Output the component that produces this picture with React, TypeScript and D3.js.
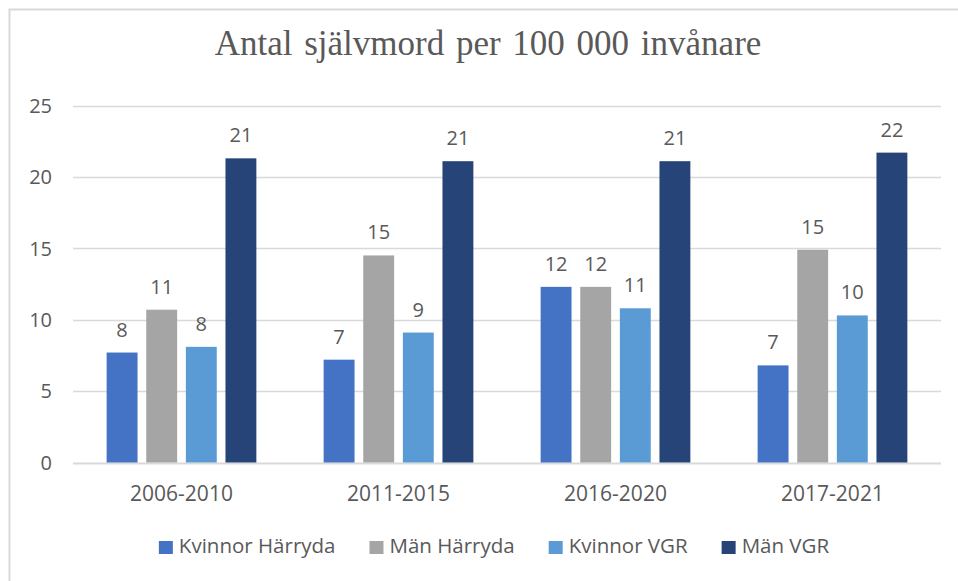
import { useRef, useEffect } from "react";
import * as d3 from "d3";

const categories = ["2006-2010", "2011-2015", "2016-2020", "2017-2021"];
const seriesNames = ["Kvinnor Härryda", "Män Härryda", "Kvinnor VGR", "Män VGR"];
const colors = ["#4472C4", "#A5A5A5", "#5B9BD5", "#264478"];

// värden per serie, en per period
const kvinnorHarryda = [7.7, 7.2, 12.3, 6.8];
const manHarryda = [10.7, 14.5, 12.3, 14.9];
const kvinnorVGR = [8.1, 9.1, 10.8, 10.3];
const manVGR = [21.3, 21.1, 21.1, 21.7];

const yTicks = [0, 5, 10, 15, 20, 25];

const W = 958;
const H = 581;
const textColor = "#595959";
const gridColor = "#D9D9D9";

function App() {
  const svgRef = useRef<SVGSVGElement>(null);

  useEffect(() => {
    document.body.style.margin = "0";
    document.body.style.overflow = "hidden";

    const svg = d3.select(svgRef.current);
    svg.selectAll("*").remove();

    const series = [kvinnorHarryda, manHarryda, kvinnorVGR, manVGR];

    const left = 73;
    const right = 941;
    const top = 105.5;
    const bottom = 462.5;

    const x = d3.scaleBand().domain(categories).range([left, right]);
    const band = x.bandwidth();
    const groupW = band * 0.69;
    const x1 = d3
      .scaleBand<number>()
      .domain(d3.range(series.length))
      .range([(band - groupW) / 2, (band + groupW) / 2])
      .paddingInner(0.22);

    const y = d3.scaleLinear().domain([0, 25]).range([bottom, top]);

    // ram
    svg
      .append("rect")
      .attr("x", 9.5)
      .attr("y", 9.5)
      .attr("width", W + 20)
      .attr("height", H + 20)
      .attr("fill", "#fff")
      .attr("stroke", gridColor)
      .attr("stroke-width", 2);

    // titel
    svg
      .append("text")
      .attr("x", 488)
      .attr("y", 55)
      .attr("text-anchor", "middle")
      .attr("font-family", "'Liberation Serif', 'Times New Roman', serif")
      .attr("font-size", 35)
      .style("word-spacing", "3px")
      .attr("fill", textColor)
      .text("Antal självmord per 100 000 invånare");

    // rutnät + y-axel
    const yAxis = svg.append("g");
    yAxis
      .selectAll("line")
      .data(yTicks)
      .join("line")
      .attr("x1", left)
      .attr("x2", right)
      .attr("y1", (d) => Math.round(y(d)) + 0.5)
      .attr("y2", (d) => Math.round(y(d)) + 0.5)
      .attr("stroke", gridColor)
      .attr("stroke-width", (d) => (d === 0 ? 2 : 1.5));
    yAxis
      .selectAll("text")
      .data(yTicks)
      .join("text")
      .attr("x", 52)
      .attr("y", (d) => y(d))
      .attr("dy", "0.36em")
      .attr("text-anchor", "end")
      .attr("font-family", "'Open Sans', sans-serif")
      .attr("font-size", 20)
      .attr("fill", textColor)
      .text((d) => d);

    // staplar
    series.forEach((vals, si) => {
      const g = svg.append("g");
      g.selectAll("rect")
        .data(vals)
        .join("rect")
        .attr("x", (_, i) => x(categories[i])! + x1(si)!)
        .attr("y", (d) => y(d))
        .attr("width", x1.bandwidth())
        .attr("height", (d) => bottom - y(d))
        .attr("fill", colors[si]);
      g.selectAll("text")
        .data(vals)
        .join("text")
        .attr("x", (_, i) => x(categories[i])! + x1(si)! + x1.bandwidth() / 2)
        .attr("y", (d) => y(d) - 16)
        .attr("text-anchor", "middle")
        .attr("font-family", "'Open Sans', sans-serif")
        .attr("font-size", 20)
        .attr("fill", textColor)
        .text((d) => Math.round(d));
    });

    // x-axel etiketter
    svg
      .append("g")
      .selectAll("text")
      .data(categories)
      .join("text")
      .attr("x", (d) => x(d)! + band / 2)
      .attr("y", 501)
      .attr("text-anchor", "middle")
      .attr("font-family", "'Open Sans', sans-serif")
      .attr("font-size", 21)
      .attr("fill", textColor)
      .text((d) => d);

    // legend
    const legend = svg.append("g");
    const items = legend
      .selectAll("g")
      .data(seriesNames)
      .join("g");
    items
      .append("rect")
      .attr("x", 0)
      .attr("y", -12)
      .attr("width", 14)
      .attr("height", 13)
      .attr("fill", (_, i) => colors[i]);
    items
      .append("text")
      .attr("x", 20)
      .attr("y", 0)
      .attr("font-family", "'Open Sans', sans-serif")
      .attr("font-size", 20.5)
      .attr("fill", textColor)
      .text((d) => d);

    const widths: number[] = [];
    items.each(function () {
      const t = d3.select(this).select("text").node() as SVGTextElement;
      widths.push(20 + t.getComputedTextLength());
    });
    const gap = 34;
    const total = d3.sum(widths) + gap * (widths.length - 1);
    let cx = 494 - total / 2;
    items.attr("transform", (_, i) => {
      const tx = cx;
      cx += widths[i] + gap;
      return `translate(${tx},553)`;
    });
  }, []);

  return <svg ref={svgRef} width={W} height={H} style={{ display: "block" }} />;
}

export default App;
